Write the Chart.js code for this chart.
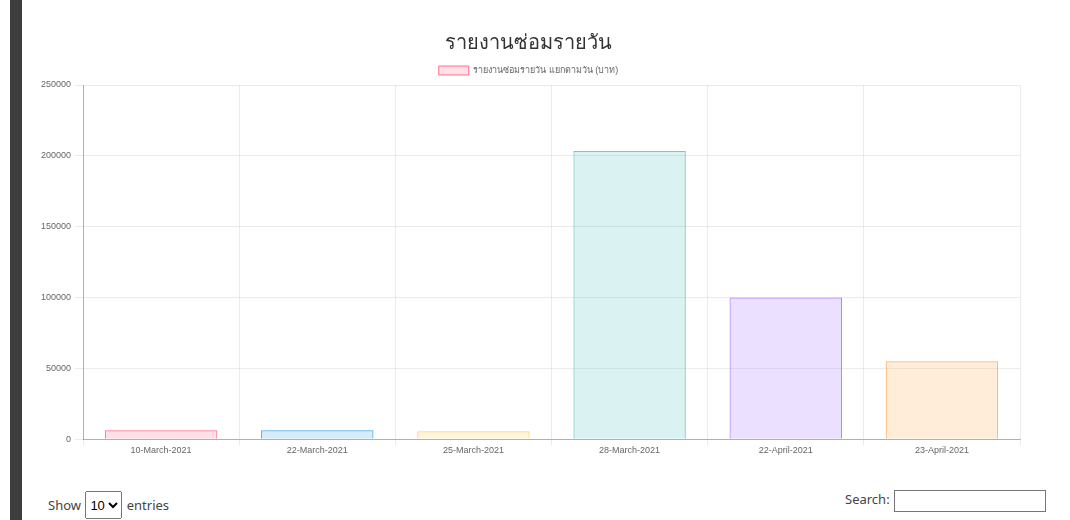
<!DOCTYPE html>
<html>
<head>
<meta charset="utf-8">
<script src="https://cdn.jsdelivr.net/npm/chart.js@4"></script>
<style>
	body { margin: 0; background: #fff; font-family: "Noto Sans", sans-serif; width: 1070px; height: 520px; overflow: hidden; position: relative; }
	.sidebar { position: absolute; left: 10px; top: 0; width: 12px; height: 520px; background: #3d3d3d; }
	.chart-wrap { position: absolute; left: 30px; top: 20px; width: 1000px; height: 441px; }
	.show { position: absolute; left: 48px; top: 491px; font-size: 13px; color: #444; }
	.show select { font-size: 13px; height: 28px; padding: 0; margin: 0 1px; }
	.search { position: absolute; left: 845px; top: 490px; font-size: 13px; color: #444; }
	.search input { width: 146px; height: 18px; border: 1px solid #777; vertical-align: middle; margin-left: 1px; }
</style>
</head>
<body>
<div class="sidebar"></div>
<div class="chart-wrap"><canvas id="daily-repair-bar"></canvas></div>
<div class="show">Show <select><option>10</option></select> entries</div>
<div class="search">Search: <input type="text"></div>
<script>
//
// Daily repair bar chart
//

var dateLabels = ['10-March-2021', '22-March-2021', '25-March-2021', '28-March-2021', '22-April-2021', '23-April-2021'];
var repairCost = [6300, 6300, 5600, 203500, 100000, 55000];
var yTicks = [0, 50000, 100000, 150000, 200000, 250000];

var fillColors = ['rgba(255, 99, 132, 0.2)', 'rgba(54, 162, 235, 0.2)', 'rgba(255, 206, 86, 0.2)', 'rgba(75, 192, 192, 0.2)', 'rgba(153, 102, 255, 0.2)', 'rgba(255, 159, 64, 0.2)'];
var lineColors = ['rgba(255, 99, 132, 0.9)', 'rgba(54, 162, 235, 0.9)', 'rgba(255, 206, 86, 0.9)', 'rgba(75, 192, 192, 0.8)', 'rgba(153, 102, 255, 0.8)', 'rgba(255, 159, 64, 0.8)'];

var $chart = document.getElementById('daily-repair-bar');

new Chart($chart, {
	type: 'bar',
	data: {
		labels: dateLabels,
		datasets: [{
			label: 'รายงานซ่อมรายวัน แยกตามวัน (บาท)',
			data: repairCost,
			backgroundColor: fillColors,
			borderColor: lineColors,
			borderWidth: 1,
			categoryPercentage: 0.8,
			barPercentage: 0.9
		}]
	},
	options: {
		maintainAspectRatio: false,
		animation: false,
		layout: { padding: { left: 7, right: 10, top: 0, bottom: 5 } },
		plugins: {
			title: {
				display: true,
				text: 'รายงานซ่อมรายวัน',
				color: '#333',
				font: { size: 20, weight: 'normal', family: '"Noto Sans", sans-serif' },
				padding: { top: 11, bottom: 5 }
			},
			legend: {
				labels: {
					boxWidth: 30,
					boxHeight: 9,
					padding: 6,
					color: '#666',
					font: { size: 9, family: '"Liberation Sans", sans-serif' }
				}
			},
			tooltip: { enabled: false }
		},
		scales: {
			x: {
				grid: { color: 'rgba(0,0,0,0.08)', tickLength: 6 },
				border: { color: 'rgba(0,0,0,0.25)' },
				ticks: { color: '#666', padding: 0, font: { size: 9, family: '"Liberation Sans", sans-serif' }, maxRotation: 0 }
			},
			y: {
				min: 0,
				max: 250000,
				afterBuildTicks: function(axis) {
					axis.ticks = yTicks.map(function(v) { return { value: v }; });
				},
				grid: { color: 'rgba(0,0,0,0.08)', tickLength: 8 },
				border: { color: 'rgba(0,0,0,0.25)' },
				ticks: {
					color: '#666',
					padding: 4,
					font: { size: 9, family: '"Liberation Sans", sans-serif' },
					callback: function(value) { return String(value); }
				}
			}
		}
	}
});
</script>
</body>
</html>
